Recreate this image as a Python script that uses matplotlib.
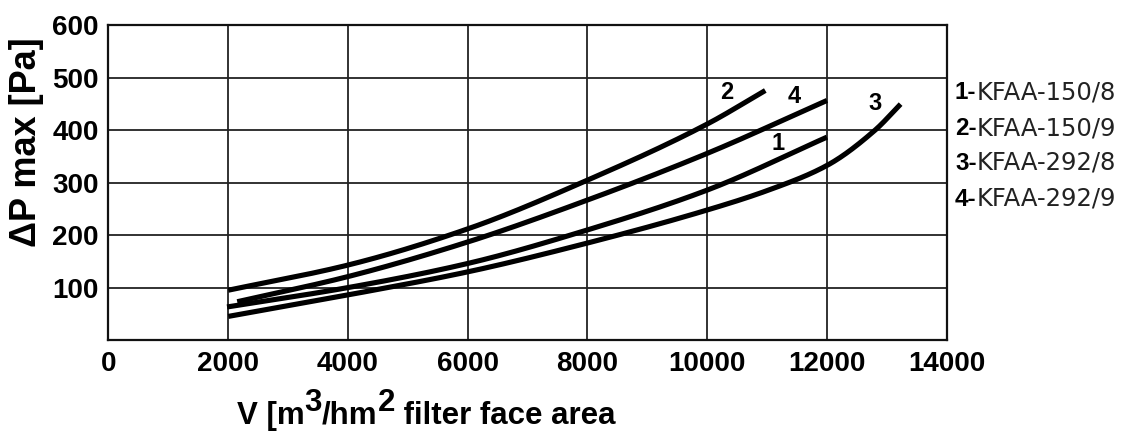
import numpy as np
import matplotlib
matplotlib.use("Agg")
import matplotlib.pyplot as plt

# ---- data ----
x1 = [1980, 4000, 6000, 8000, 10000, 12000]
y1 = [63, 100, 146, 210, 286, 387]
x2 = [2000, 4000, 6000, 8000, 10000, 10970]
y2 = [95, 143, 212, 305, 412, 476]
x3 = [2000, 4000, 6000, 8000, 10000, 11000, 12000, 12800, 13230]
y3 = [45, 86, 130, 185, 248, 285, 333, 400, 450]
x4 = [2150, 4000, 6000, 8000, 10000, 12000]
y4 = [73, 121, 187, 267, 356, 457]

curve_ids = ["1", "2", "3", "4"]
label_pos = {"1": (11181, 374), "2": (10330, 473), "3": (12807, 451), "4": (11452, 465)}
legend_num = ["1-", "2-", "3-", "4-"]
legend_name = ["KFAA-150/8", "KFAA-150/9", "KFAA-292/8", "KFAA-292/9"]
xticks = [0, 2000, 4000, 6000, 8000, 10000, 12000, 14000]
yticks = [100, 200, 300, 400, 500, 600]


def smooth(xs, ys, n=40):
    """Monotone piecewise-cubic (PCHIP-style) drawing of the read points."""
    xs = np.asarray(xs, float)
    ys = np.asarray(ys, float)
    h = np.diff(xs)
    d = np.diff(ys) / h
    m = np.empty_like(xs)
    m[0] = d[0]
    m[-1] = d[-1]
    for k in range(1, len(xs) - 1):
        w1 = 2 * h[k] + h[k - 1]
        w2 = h[k] + 2 * h[k - 1]
        m[k] = (w1 + w2) / (w1 / d[k - 1] + w2 / d[k])
    X, Y = [], []
    for i in range(len(xs) - 1):
        t = np.linspace(0, 1, n, endpoint=(i == len(xs) - 2))
        h00 = 2 * t**3 - 3 * t**2 + 1
        h10 = t**3 - 2 * t**2 + t
        h01 = -2 * t**3 + 3 * t**2
        h11 = t**3 - t**2
        X.append(xs[i] + t * h[i])
        Y.append(h00 * ys[i] + h10 * h[i] * m[i] + h01 * ys[i + 1] + h11 * h[i] * m[i + 1])
    return np.concatenate(X), np.concatenate(Y)


W, H = 1128, 432
fig = plt.figure(figsize=(W / 100, H / 100), dpi=100)
ax = fig.add_axes([108.5 / W, 92 / H, 838.2 / W, 314.5 / H])
ax.set_xlim(0, 14000)
ax.set_ylim(0, 600)

for xs, ys in [(x1, y1), (x2, y2), (x3, y3), (x4, y4)]:
    sx, sy = smooth(xs, ys)
    ax.plot(sx, sy, color="black", lw=3.7, solid_capstyle="butt", zorder=3)

for cid in curve_ids:
    px, py = label_pos[cid]
    ax.text(px, py, cid, ha="center", va="center", fontsize=17,
            fontweight="bold", family="Liberation Sans", zorder=4)

ax.set_xticks(xticks)
ax.set_yticks(yticks)
ax.grid(True, color="#222222", lw=1.3)
ax.set_axisbelow(True)
ax.tick_params(length=0, labelsize=20)
ax.tick_params(axis="x", pad=8)
ax.tick_params(axis="y", pad=7)
for lab in ax.get_xticklabels() + ax.get_yticklabels():
    lab.set_fontweight("bold")
    lab.set_family("Liberation Sans")
for sp in ax.spines.values():
    sp.set_linewidth(1.6)
    sp.set_color("#111111")

fig.text(27 / W, (H - 142) / H, "ΔP max [Pa]", rotation=90, ha="center", va="center",
         fontsize=26, fontweight="bold", family="Liberation Sans")

fig.canvas.draw()
r = fig.canvas.get_renderer()


def chain(parts, x0, y0):
    """Place text pieces one after another in figure pixel coords (y0 = baseline from top)."""
    x = x0
    for s, dy, kw in parts:
        t = fig.text(x / W, (H - y0 + dy) / H, s, ha="left", va="baseline", **kw)
        bb = t.get_window_extent(renderer=r)
        x = bb.x1


bold = dict(fontsize=22.5, fontweight="bold", family="Liberation Sans")
chain([("V [m", 0, bold), ("3", 13, bold), ("/hm", 0, bold), ("2", 13, bold),
       (" filter face area", 0, bold)], 237, 424)

rows = [99, 135, 170, 206]
for num, name, yy in zip(legend_num, legend_name, rows):
    chain([(num, 0, dict(fontsize=17.5, fontweight="bold", family="Liberation Sans")),
           (name, 0, dict(fontsize=17.5, family="DejaVu Sans", color="#222222"))],
          955, yy)

fig.savefig("out.png", dpi=100)
